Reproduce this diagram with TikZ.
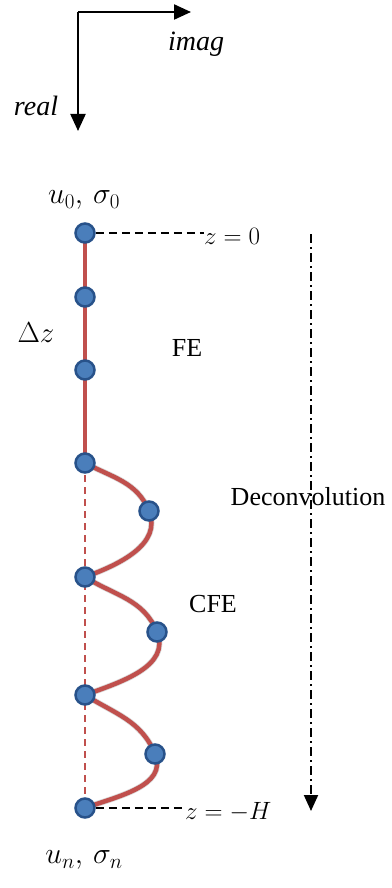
\RequirePackage{fix-cm}
\documentclass[tikz,border=0pt]{standalone}
\usepackage{fontspec}
\setmainfont{Liberation Serif}
\usetikzlibrary{arrows.meta,backgrounds}
\definecolor{redline}{HTML}{C0504D}
\definecolor{dotfill}{HTML}{4A7EBB}
\definecolor{dotedge}{HTML}{28528A}
\tikzset{
  dot/.style={circle, fill=dotfill, draw=dotedge, line width=2.5pt, minimum size=19pt, inner sep=0pt},
  redcurve/.style={draw=redline, line width=4.5pt},
  shadowcurve/.style={draw=black, opacity=0.15, line width=6pt},
  reddash/.style={draw=redline, line width=1.8pt, dash pattern=on 7pt off 5pt},
  levelline/.style={draw=black, line width=2.2pt, dash pattern=on 8pt off 5pt},
  axis/.style={draw=black, line width=2.2pt, -{Triangle[width=15pt,length=17pt]}},
  deconv/.style={draw=black, line width=2pt, dash pattern=on 9pt off 4pt on 2pt off 4pt, -{Triangle[width=14pt,length=16pt]}},
  lbl/.style={inner sep=0pt, font=\fontsize{26}{30}\selectfont},
  mlbl/.style={inner sep=0pt, font=\fontsize{25}{30}\selectfont},
  ulbl/.style={inner sep=0pt, font=\fontsize{30}{34}\selectfont},
  ital/.style={inner sep=0pt, font=\fontsize{28}{32}\selectfont\itshape},
}
\begin{document}
\begin{tikzpicture}[x=1pt, y=-1pt]
\useasboundingbox (0,0) rectangle (391,888);
% axes
\coordinate (o) at (78,12);
\coordinate (ie) at (191,12);
\coordinate (re) at (78,131);
\draw[axis] (o) -- (ie);
\draw[axis] (o) -- (re);
\node[ital] (imag) at (196,44) {imag};
\node[ital] (real) at (36,106) {real};
% nodes
\node[dot] (n0) at (85,233) {};
\node[dot] (n1) at (85,297) {};
\node[dot] (n2) at (85,370) {};
\node[dot] (n3) at (85,463) {};
\node[dot] (m1) at (149,511) {};
\node[dot] (n4) at (85,577) {};
\node[dot] (m2) at (157,632) {};
\node[dot] (n5) at (85,695) {};
\node[dot] (m3) at (155,754) {};
\node[dot] (n6) at (85,808) {};
% labels
\node[ulbl] (u0) at (84,200) {$u_0,\,\sigma_0$};
\node[ulbl] (un) at (84,860) {$u_n,\,\sigma_n$};
\node[inner sep=0pt, font=\fontsize{29}{34}\selectfont] (dz) at (36,333) {$\Delta z$};
\node[lbl] (fe) at (187,348) {FE};
\node[lbl] (cfe) at (213,604) {CFE};
\node[mlbl, anchor=west] (z0) at (204,236) {$z=0$};
\node[mlbl, anchor=west] (zH) at (185,812) {$z=-H$};
\coordinate (dtop) at (311,234);
\coordinate (dbot) at (311,811);
\node[lbl] (dec) at (308,497) {Deconvolution};
\begin{pgfonlayer}{background}
  % soft shadows
  \begin{scope}[shift={(2,4)}]
    \draw[shadowcurve] (n3.center) to[out=-28, in=112] (m1.center)
                    to[out=-68, in=20] (n4.center)
                    to[out=-32, in=112] (m2.center)
                    to[out=-68, in=20] (n5.center)
                    to[out=-32, in=112] (m3.center)
                    to[out=-68, in=20] (n6.center);
  \end{scope}
  \draw[redcurve] (n0.center) -- (n3.center);
  \draw[reddash] (n3.center) -- (n6.center);
  \draw[redcurve] (n3.center) to[out=-28, in=112] (m1.center)
                  to[out=-68, in=20] (n4.center);
  \draw[redcurve] (n4.center) to[out=-32, in=112] (m2.center)
                  to[out=-68, in=20] (n5.center);
  \draw[redcurve] (n5.center) to[out=-32, in=112] (m3.center)
                  to[out=-68, in=20] (n6.center);
  \draw[levelline] (n0) -- (n0 -| z0.west);
  \draw[levelline] (n6) -- (n6 -| zH.west);
\end{pgfonlayer}
\draw[deconv] (dtop) -- (dbot);
\end{tikzpicture}
\end{document}
